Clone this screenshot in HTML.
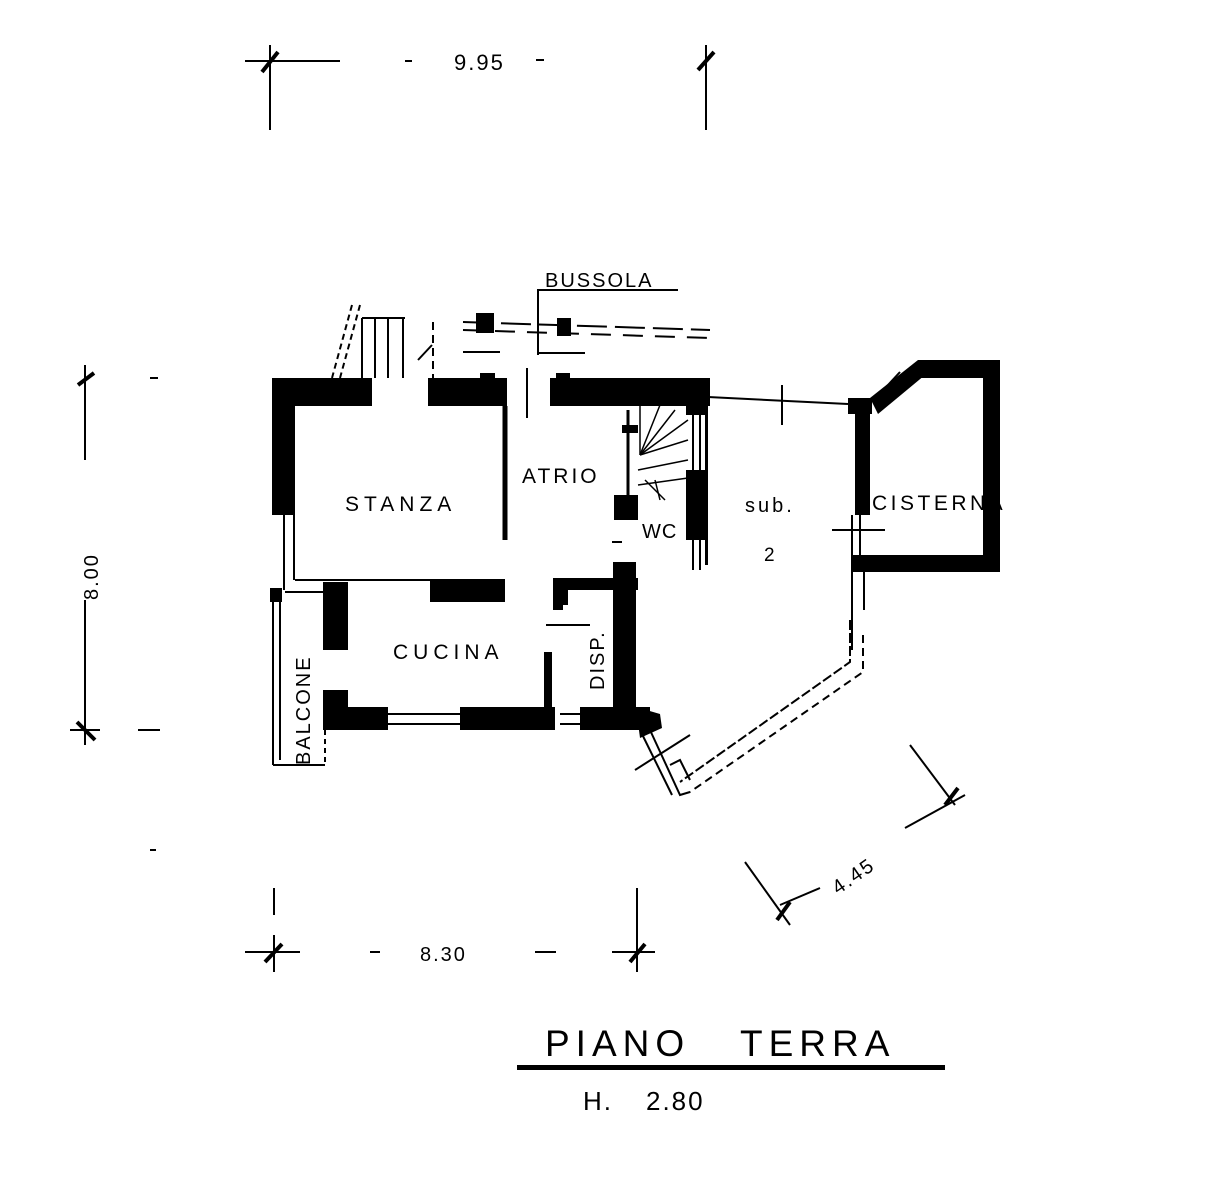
<!DOCTYPE html>
<html><head><meta charset="utf-8"><style>
html,body{margin:0;padding:0;background:#fff}
svg{display:block}
text{font-family:"Liberation Sans",sans-serif;fill:#000}
</style></head><body>
<svg width="1229" height="1200" viewBox="0 0 1229 1200" xmlns="http://www.w3.org/2000/svg">
<g stroke="#000" fill="none" stroke-width="2">
<line x1="245" y1="61" x2="340" y2="61"/>
<line x1="270" y1="45" x2="270" y2="130"/>
<line x1="706" y1="45" x2="706" y2="130"/>
<line x1="262" y1="72" x2="278" y2="52" stroke-width="4"/>
<line x1="698" y1="70" x2="714" y2="52" stroke-width="4"/>
<line x1="405" y1="61" x2="412" y2="61"/><line x1="536" y1="60" x2="544" y2="60"/>
<line x1="85" y1="365" x2="85" y2="460"/>
<line x1="85" y1="600" x2="85" y2="745"/>
<line x1="70" y1="730" x2="100" y2="730"/>
<line x1="78" y1="385" x2="94" y2="373" stroke-width="4"/>
<line x1="77" y1="722" x2="95" y2="740" stroke-width="4"/>
<line x1="150" y1="378" x2="158" y2="378"/><line x1="138" y1="730" x2="160" y2="730"/>
<line x1="245" y1="952" x2="300" y2="952"/>
<line x1="370" y1="952" x2="380" y2="952"/>
<line x1="535" y1="952" x2="556" y2="952"/>
<line x1="612" y1="952" x2="655" y2="952"/>
<line x1="274" y1="888" x2="274" y2="915"/>
<line x1="274" y1="935" x2="274" y2="972"/>
<line x1="637" y1="888" x2="637" y2="972"/>
<line x1="265" y1="962" x2="282" y2="944" stroke-width="4"/>
<line x1="630" y1="962" x2="645" y2="944" stroke-width="4"/>
<line x1="150" y1="850" x2="156" y2="850"/>
<line x1="745" y1="862" x2="790" y2="925"/>
<line x1="910" y1="745" x2="955" y2="805"/>
<line x1="780" y1="905" x2="820" y2="888"/>
<line x1="905" y1="828" x2="965" y2="795"/>
<line x1="777" y1="920" x2="790" y2="902" stroke-width="4"/>
<line x1="945" y1="805" x2="958" y2="788" stroke-width="4"/>
<polyline points="538,325 538,290 678,290"/>
<line x1="538" y1="325" x2="538" y2="355"/>
<line x1="463" y1="322" x2="710" y2="330" stroke-dasharray="30,8"/>
<line x1="463" y1="330" x2="710" y2="338" stroke-dasharray="20,12"/>
<line x1="463" y1="352" x2="500" y2="352"/><line x1="537" y1="353" x2="585" y2="353"/>
<line x1="360" y1="305" x2="340" y2="378" stroke-dasharray="6,4"/>
<line x1="352" y1="305" x2="332" y2="378" stroke-dasharray="6,4"/>
<line x1="362" y1="318" x2="405" y2="318"/>
<line x1="362" y1="318" x2="362" y2="378"/><line x1="375" y1="318" x2="375" y2="378"/><line x1="388" y1="318" x2="388" y2="378"/><line x1="403" y1="318" x2="403" y2="378"/>
<line x1="433" y1="322" x2="433" y2="378" stroke-dasharray="8,5"/>
<line x1="418" y1="360" x2="432" y2="345"/>
<line x1="527" y1="368" x2="527" y2="418"/>
<line x1="505" y1="406" x2="505" y2="540" stroke-width="5"/>
<line x1="708" y1="397" x2="848" y2="404"/>
<line x1="782" y1="385" x2="782" y2="425"/>
<line x1="284" y1="515" x2="284" y2="590"/><line x1="294" y1="515" x2="294" y2="580"/>
<line x1="295" y1="580" x2="505" y2="580"/>
<line x1="273" y1="592" x2="273" y2="765"/><line x1="273" y1="765" x2="325" y2="765"/>
<line x1="325" y1="730" x2="325" y2="765" stroke-dasharray="5,4"/>
<line x1="280" y1="596" x2="280" y2="760"/>
<line x1="285" y1="592" x2="325" y2="592"/>
<line x1="388" y1="714" x2="460" y2="714"/><line x1="388" y1="724" x2="460" y2="724"/>
<line x1="560" y1="714" x2="580" y2="714"/><line x1="560" y1="724" x2="580" y2="724"/>
<line x1="546" y1="625" x2="590" y2="625"/>
<line x1="548" y1="652" x2="548" y2="710" stroke-width="8"/>
<line x1="565" y1="588" x2="565" y2="605" stroke-width="6"/>
<line x1="612" y1="542" x2="622" y2="542"/>
<line x1="628" y1="410" x2="628" y2="500" stroke-width="3"/>
<g stroke-width="1.5">
<line x1="640" y1="455" x2="640" y2="405"/><line x1="640" y1="455" x2="660" y2="405"/><line x1="640" y1="455" x2="675" y2="410"/>
<line x1="640" y1="455" x2="688" y2="420"/><line x1="640" y1="455" x2="688" y2="440"/>
<line x1="638" y1="470" x2="688" y2="460"/><line x1="638" y1="485" x2="688" y2="478"/>
<line x1="645" y1="480" x2="665" y2="500"/><line x1="655" y1="480" x2="660" y2="500"/>
</g>
<line x1="693" y1="408" x2="693" y2="470"/><line x1="700" y1="408" x2="700" y2="470"/>
<line x1="693" y1="540" x2="693" y2="570"/><line x1="700" y1="540" x2="700" y2="570"/>
<line x1="852" y1="515" x2="852" y2="650"/><line x1="864" y1="572" x2="864" y2="610"/>
<line x1="832" y1="530" x2="885" y2="530"/>
<line x1="860" y1="500" x2="860" y2="555"/>
<line x1="900" y1="372" x2="876" y2="398"/>
<polyline points="850,620 850,662 680,782" stroke-dasharray="10,3"/>
<polyline points="863,635 863,672 690,792" stroke-dasharray="8,5"/>
<polyline points="650,730 680,795 690,792"/>
<polyline points="640,730 672,795"/>
<polyline points="670,765 680,760 690,780"/>
<line x1="635" y1="770" x2="690" y2="735"/>
</g>
<g fill="#000">
<rect x="272" y="378" width="100" height="28"/>
<rect x="272" y="378" width="23" height="137"/>
<rect x="428" y="378" width="79" height="28"/>
<rect x="480" y="373" width="15" height="8"/>
<rect x="550" y="378" width="160" height="28"/>
<rect x="556" y="373" width="14" height="8"/>
<rect x="686" y="385" width="22" height="30"/>
<rect x="686" y="470" width="22" height="70"/>
<rect x="705" y="395" width="3" height="170"/>
<rect x="614" y="495" width="24" height="25"/>
<rect x="622" y="425" width="16" height="8"/>
<rect x="430" y="580" width="75" height="22"/>
<rect x="323" y="582" width="25" height="68"/>
<rect x="553" y="578" width="85" height="12"/>
<rect x="553" y="578" width="10" height="32"/>
<rect x="613" y="562" width="23" height="168"/>
<rect x="615" y="562" width="20" height="14"/>
<rect x="323" y="690" width="25" height="40"/>
<rect x="323" y="707" width="65" height="23"/>
<rect x="460" y="707" width="95" height="23"/>
<rect x="580" y="707" width="70" height="23"/>
<polygon points="636,707 660,714 662,728 640,738"/>
<rect x="270" y="588" width="12" height="14"/>
<rect x="476" y="313" width="18" height="20"/>
<rect x="557" y="318" width="14" height="18"/>
<rect x="848" y="398" width="24" height="16"/>
<rect x="855" y="405" width="15" height="110"/>
<rect x="852" y="555" width="148" height="17"/>
<rect x="983" y="362" width="17" height="210"/>
<rect x="918" y="360" width="82" height="18"/>
<polygon points="870,398 918,360 925,375 878,414"/>
</g>
<text x="454" y="70" font-size="22" letter-spacing="2">9.95</text>
<text x="420" y="961" font-size="20" letter-spacing="2">8.30</text>
<text transform="translate(98,600) rotate(-90)" font-size="20" letter-spacing="2">8.00</text>
<text transform="translate(838,895) rotate(-35)" font-size="20" letter-spacing="2">4.45</text>
<text x="545" y="287" font-size="20" letter-spacing="2">BUSSOLA</text>
<text x="345" y="511" font-size="21" letter-spacing="5">STANZA</text>
<text x="522" y="483" font-size="21" letter-spacing="3">ATRIO</text>
<text x="642" y="538" font-size="20" letter-spacing="1">WC</text>
<text x="745" y="512" font-size="20" letter-spacing="3">sub.</text>
<text x="764" y="561" font-size="19">2</text>
<text x="872" y="510" font-size="21" letter-spacing="3.5">CISTERNA</text>
<text x="393" y="659" font-size="21" letter-spacing="5">CUCINA</text>
<text transform="translate(604,690) rotate(-90)" font-size="20" letter-spacing="2">DISP.</text>
<text transform="translate(310,765) rotate(-90)" font-size="20" letter-spacing="2">BALCONE</text>
<text x="545" y="1056" font-size="37" letter-spacing="6">PIANO</text>
<text x="740" y="1056" font-size="37" letter-spacing="6">TERRA</text>
<rect x="517" y="1065" width="428" height="5" fill="#000"/>
<text x="583" y="1110" font-size="26" letter-spacing="2">H.</text>
<text x="646" y="1110" font-size="26" letter-spacing="2">2.80</text>
</svg>
</body></html>
